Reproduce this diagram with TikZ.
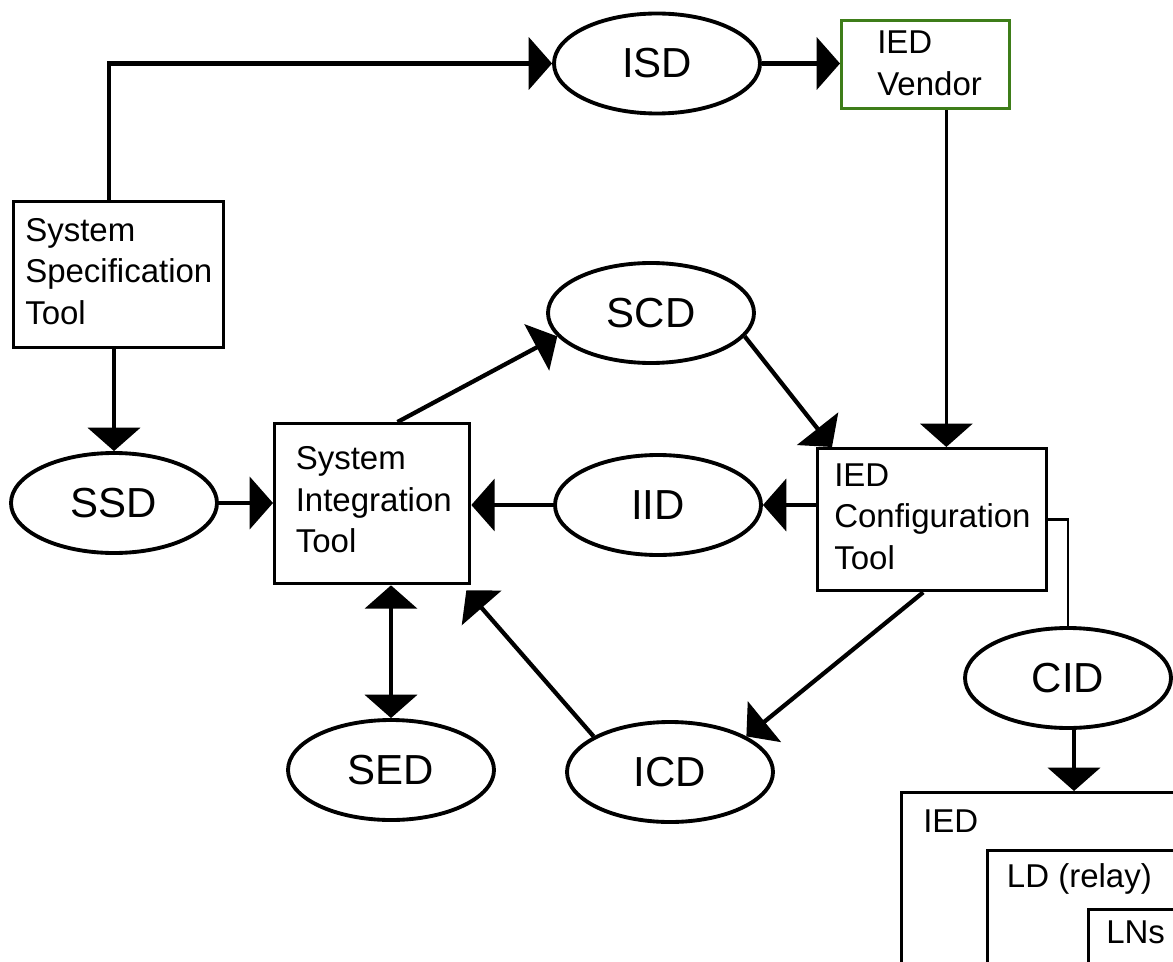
\documentclass[tikz,border=0pt]{standalone}
\usepackage{fontspec}
\setmainfont{Liberation Sans}
\usetikzlibrary{shapes.geometric,arrows.meta}
\definecolor{vendorgreen}{RGB}{62,125,25}
\begin{document}
\begin{tikzpicture}[x=0.75pt,y=-0.75pt,
  doc/.style={ellipse,draw,line width=2.9pt,minimum width=154.5pt,minimum height=75pt,
    inner sep=0pt,font=\fontsize{31.5}{36}\selectfont},
  tool/.style={draw,line width=2.5pt,inner sep=0pt,anchor=north west},
  toollabel/.style={anchor=north west,inner sep=0pt,align=left,
    font=\fontsize{24.75}{31.1}\selectfont},
  tip/.tip={Triangle[width=39pt,length=17.5pt]},
  flow/.style={line width=3.2pt,-tip},
  link/.style={line width=2pt},
]
\path[use as bounding box] (0,0) rectangle (1173,962);
\clip (0,0) rectangle (1173,962);

% tools (rectangles)
\node[tool,minimum width=157.5pt,minimum height=109.5pt] (sst) at (12,200) {};
\node[tool,draw=vendorgreen,minimum width=126pt,minimum height=66pt] (iedv) at (840,19) {};
\node[tool,minimum width=146.25pt,minimum height=120pt] (sit) at (273,422) {};
\node[tool,minimum width=171.75pt,minimum height=106.5pt] (ict) at (816,447) {};
\node[tool,minimum width=225pt,minimum height=150pt] (ied) at (900,791) {};
\node[tool,minimum width=165pt,minimum height=112.5pt] (ld) at (986,849) {};
\node[tool,minimum width=90pt,minimum height=67.5pt] (lns) at (1087,908) {};

% tool captions
\node[toollabel] (sst-text) at (25,218) {System\\Specification\\Tool};
\node[toollabel] (iedv-text) at (877,31) {IED\\Vendor};
\node[toollabel] (sit-text) at (295.5,446.5) {System\\Integration\\Tool};
\node[toollabel] (ict-text) at (834,463.5) {IED\\Configuration\\Tool};
\node[toollabel] (ied-text) at (923,810) {IED};
\node[toollabel] (ld-text) at (1006.7,863.5) {LD (relay)};
\node[toollabel] (lns-text) at (1106,921) {LNs};

% configuration files (ellipses)
\node[doc] (isd) at (657,63.5) {ISD};
\node[doc] (scd) at (651,313) {SCD};
\node[doc] (ssd) at (114,503) {SSD};
\node[doc] (iid) at (658,505) {IID};
\node[doc] (cid) at (1068,678) {CID};
\node[doc] (sed) at (391,770) {SED};
\node[doc] (icd) at (670,772) {ICD};

% data flow
\draw[flow] ([xshift=-7.5pt]sst.north) |- (isd.west);
\draw[flow] (isd.east) -- (isd.east -| iedv.west);
\draw[flow,line width=2.6pt] ([xshift=15.5pt]iedv.south) -- ([xshift=15.5pt]iedv.south |- ict.north);
\draw[flow] (sst.south -| ssd.north) -- (ssd.north);
\draw[flow] (ssd.east) -- (ssd.east -| sit.west);
\draw[flow] ([xshift=19pt]sit.north) -- (scd.194);
\draw[flow] (scd.-14) -- ([xshift=12pt]ict.north west);
\draw[flow] (iid.east -| ict.west) -- (iid.east);
\draw[flow] (iid.west) -- (iid.west -| sit.east);
\draw[flow] ([xshift=-6.75pt]ict.south) -- (icd.25);
\draw[flow] (icd.155) -- ([xshift=-3.75pt,yshift=-3.75pt]sit.south east);
\draw[line width=3.2pt,tip-tip] (sed.north |- sit.south) -- (sed.north);
\draw[link] (ict.east) -| (cid.north);
\draw[flow] ([xshift=4.5pt]cid.south) -- ([xshift=4.5pt]cid.south |- ied.north);
\end{tikzpicture}
\end{document}
